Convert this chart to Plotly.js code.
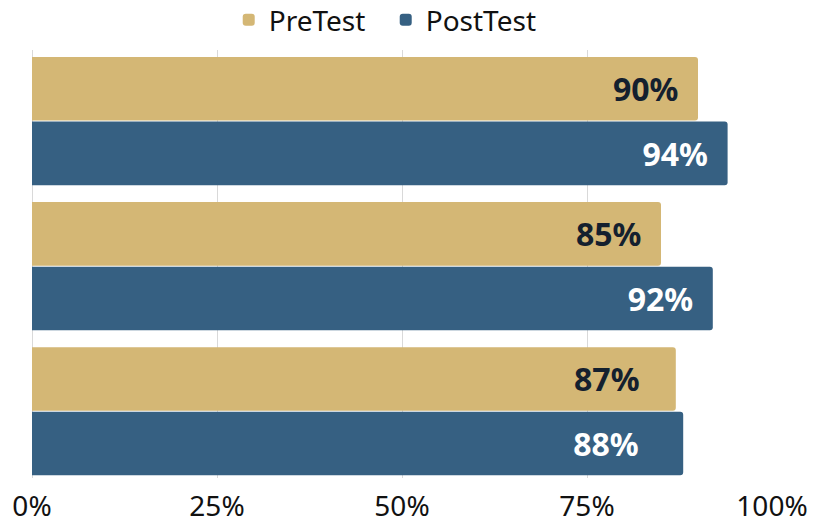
<!DOCTYPE html>
<html><head><meta charset="utf-8">
<script src="https://cdn.plot.ly/plotly-3.0.1.min.js"></script>
<style>html,body{margin:0;padding:0;background:#fff}#chart{width:830px;height:525px}</style>
</head><body><div id="chart"></div>
<script>
const categories = ["Group A", "Group B", "Group C"];
const preValues = [0.90, 0.85, 0.87];
const postValues = [0.94, 0.92, 0.88];
const xTickVals = [0, 0.25, 0.5, 0.75, 1];
const xTickText = ["0%", "25%", "50%", "75%", "100%"];
// label padding (count of non-breaking spaces after each label) — styling only
const prePad = [2, 2, 4];
const postPad = [2, 2, 5];
const fmt = (v, n) => Math.round(v * 100) + "%" + "\u00a0".repeat(n);

const font = "Noto Sans, Open Sans, sans-serif";
const traces = [
  {type: "bar", orientation: "h", name: "PreTest", y: categories, x: preValues,
   text: preValues.map((v, i) => fmt(v, prePad[i])), textposition: "inside", insidetextanchor: "end",
   textfont: {family: font, size: 32, color: "#14202e", weight: "bold"},
   marker: {color: "#d4b775", cornerradius: 3}, hoverinfo: "x"},
  {type: "bar", orientation: "h", name: "PostTest", y: categories, x: postValues,
   text: postValues.map((v, i) => fmt(v, postPad[i])), textposition: "inside", insidetextanchor: "end",
   textfont: {family: font, size: 32, color: "#ffffff", weight: "bold"},
   marker: {color: "#366082", cornerradius: 3}, hoverinfo: "x"}
];
const layout = {
  width: 830, height: 525,
  margin: {l: 32, r: 58, t: 50, b: 47, autoexpand: false},
  paper_bgcolor: "#fff", plot_bgcolor: "#fff",
  barmode: "group", bargap: 0.11, bargroupgap: 0.015,
  font: {family: font, color: "#111"},
  showlegend: true,
  legend: {orientation: "h", x: 0.478, xanchor: "center", y: 1.07, yanchor: "middle",
           font: {size: 28, color: "#111", family: font}, traceorder: "normal",
           itemwidth: 30, entrywidth: 112, entrywidthmode: "pixels"},
  xaxis: {range: [0, 1], tickvals: xTickVals, ticktext: xTickText,
          showgrid: true, gridcolor: "#d9d9d9", gridwidth: 1,
          zeroline: true, zerolinecolor: "#d9d9d9", showline: false,
          ticklabelstandoff: 9,
          tickfont: {size: 28, color: "#111", family: font}, ticks: "", fixedrange: true},
  yaxis: {type: "category", autorange: false, range: [2.46, -0.49],
          showticklabels: false, showgrid: false, zeroline: false, ticks: "", fixedrange: true}
};
Plotly.newPlot("chart", traces, layout, {displayModeBar: false, staticPlot: true});
</script></body></html>
